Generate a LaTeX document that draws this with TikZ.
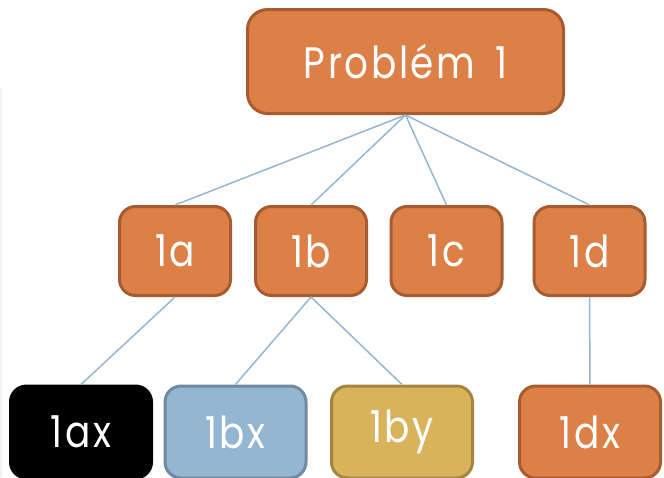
\documentclass[tikz,border=0pt]{standalone}
\usepackage{fontspec}
\setmainfont{Poppins}[FakeStretch=0.85, LetterSpace=6]

\definecolor{orangefill}{HTML}{DD8047}
\definecolor{orangeline}{HTML}{A65B30}
\definecolor{bluefill}{HTML}{94B6D2}
\definecolor{blueline}{HTML}{6F8AA1}
\definecolor{goldfill}{HTML}{D9B25C}
\definecolor{goldline}{HTML}{A3853F}
\definecolor{edgeblue}{HTML}{94B6D2}

\tikzset{
  box/.style={draw=orangeline, fill=orangefill, line width=3pt,
    rounded corners=16pt, text=white, inner sep=0pt,
    font=\fontsize{44}{50}\selectfont},
  topbox/.style={box, minimum width=316pt, minimum height=104pt, rounded corners=20pt},
  midbox/.style={box, minimum width=111pt, minimum height=89pt},
  lowbox/.style={box, minimum width=141pt, minimum height=92pt},
  blackbox/.style={lowbox, draw=black, fill=black},
  bluebox/.style={lowbox, draw=blueline, fill=bluefill},
  goldbox/.style={lowbox, draw=goldline, fill=goldfill},
  edge/.style={draw=edgeblue, line width=1.5pt}
}

\begin{document}
\begin{tikzpicture}[x=1pt, y=-1pt]
                \useasboundingbox (0,0) rectangle (664,477);
                \clip (0,0) rectangle (664,477);
                % faint border at the left
                \draw[black!6, line width=2pt] (1,88) -- (1,477);

                \node[topbox] (P) at (405.5,61.5) {Problém\kern 20pt 1};

                \node[midbox] (A) at (175,251) {1a};
                \node[midbox] (B) at (311,251) {1b};
                \node[midbox] (C) at (446.5,251) {1c};
                \node[midbox] (D) at (589.5,251) {1d};

                \node[blackbox] (AX) at (81,432) {1ax};
                \node[bluebox] (BX) at (235.5,432) {1bx};
                \node[goldbox] (BY) at (402,432) {1by};
                \node[lowbox] (DX) at (590,432) {1dx};

                \draw[edge] (P.south) -- (A.north);
                \draw[edge] (P.south) -- (B.north);
                \draw[edge] (P.south) -- (C.north);
                \draw[edge] (P.south) -- (D.north);

                \draw[edge] (A.south) -- (AX.north);
                \draw[edge] (B.south) -- (BX.north);
                \draw[edge] (B.south) -- (BY.north);
                \draw[edge] (D.south) -- (DX.north);
            \end{tikzpicture}
\end{document}
